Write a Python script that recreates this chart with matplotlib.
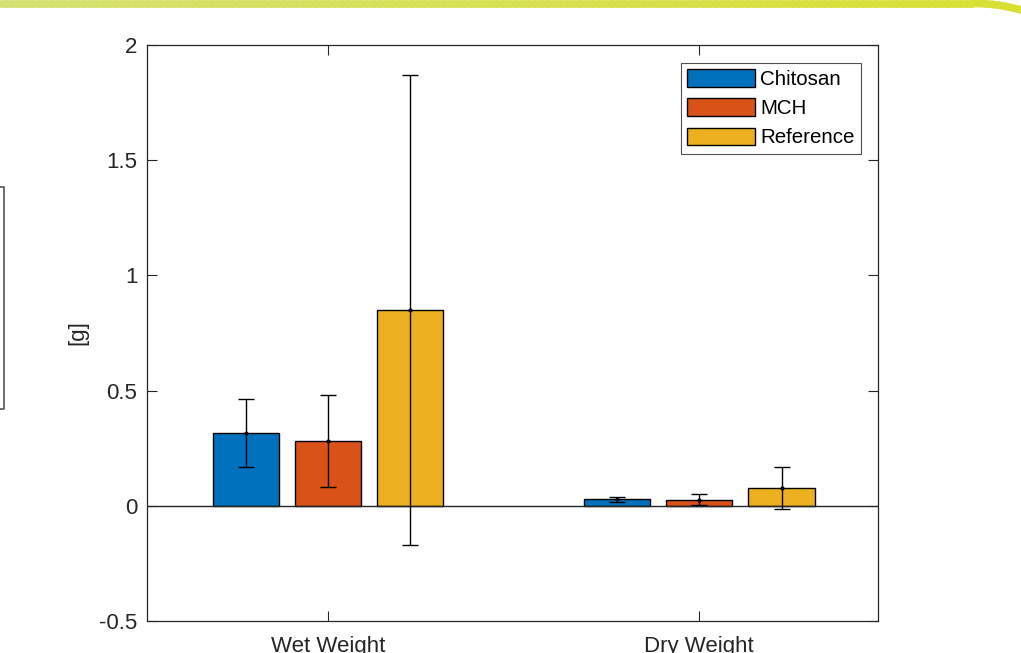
import numpy as np
import matplotlib.pyplot as plt
from matplotlib.lines import Line2D

categories = ["Wet Weight", "Dry Weight"]
series = ["Chitosan", "MCH", "Reference"]
means = {
    "Chitosan": [0.317, 0.028],
    "MCH": [0.280, 0.027],
    "Reference": [0.851, 0.076],
}
errors = {
    "Chitosan": [0.148, 0.012],
    "MCH": [0.200, 0.025],
    "Reference": [1.020, 0.092],
}
colors = ["#0072BD", "#D95319", "#EDB120"]
ink = "#262626"

plt.rcParams['font.family'] = ['Liberation Sans', 'DejaVu Sans']

fig = plt.figure(figsize=(10.21, 6.53), dpi=100)
W, H = 1021, 653
# axes box in pixels: left 147, right 878, top 45, bottom 621
ax = fig.add_axes([147 / W, 1 - 621 / H, (878 - 147) / W, (621 - 45) / H])

x = np.arange(1, len(categories) + 1)
offs = [-0.222, 0.0, 0.222]
for s, c, o in zip(series, colors, offs):
    ax.bar(x + o, means[s], width=0.178, color=c, edgecolor="black",
           linewidth=1.0, label=s, zorder=2)
    ax.errorbar(x + o, means[s], yerr=errors[s], fmt='.', color="black",
                ecolor="black", elinewidth=1.0, capsize=5.5, capthick=1.0,
                markersize=4, zorder=3)

ax.axhline(0, color=ink, linewidth=1.0, zorder=2.5)
ax.set_xlim(0.512, 2.482)
ax.set_ylim(-0.5, 2)
ax.set_xticks(x)
ax.set_xticklabels(categories)
ax.set_yticks([-0.5, 0, 0.5, 1, 1.5, 2])
ax.set_yticklabels(["-0.5", "0", "0.5", "1", "1.5", "2"])
ax.tick_params(direction="in", length=7, width=0.8, colors=ink,
               labelsize=16, top=True, right=True)
ax.tick_params(axis="x", pad=11)
ax.tick_params(axis="y", pad=7)
for sp in ax.spines.values():
    sp.set_color(ink)
    sp.set_linewidth(0.9)
ax.set_ylabel("[g]", fontsize=16, color=ink, labelpad=8)

leg = ax.legend(loc="upper right", bbox_to_anchor=(861 / W, 1 - 63 / H),
                bbox_transform=fig.transFigure, fontsize=14.8,
                frameon=True, fancybox=False, edgecolor=ink,
                handlelength=3.3, handleheight=0.95, handletextpad=0.25,
                labelspacing=0.45, borderpad=0.3, borderaxespad=0)
leg.get_frame().set_linewidth(0.8)

# partial box at the left edge of the screenshot
fig.add_artist(Line2D([0, 4 / W, 4 / W, 0],
                      [1 - 187 / H, 1 - 187 / H, 1 - 409 / H, 1 - 409 / H],
                      transform=fig.transFigure, color="#555555", linewidth=1.2))

# yellow-green frame along the top, bending down slightly at the right corner
xs = np.linspace(0, 1025, 160)
ys = 3.5 + np.where(xs > 975, ((xs - 975) / 46.0) ** 2 * 6.5, 0.0)
pts = np.column_stack([xs / W, 1 - ys / H])
cols = plt.matplotlib.colors.LinearSegmentedColormap.from_list(
    "g", ["#d4e172", "#d9e033"])
for i in range(len(pts) - 1):
    fig.add_artist(Line2D(pts[i:i + 2, 0], pts[i:i + 2, 1],
                          transform=fig.transFigure,
                          color=cols(min(pts[i, 0], 1.0)), linewidth=5.5,
                          solid_capstyle="round"))

fig.savefig("out.png", dpi=100)
